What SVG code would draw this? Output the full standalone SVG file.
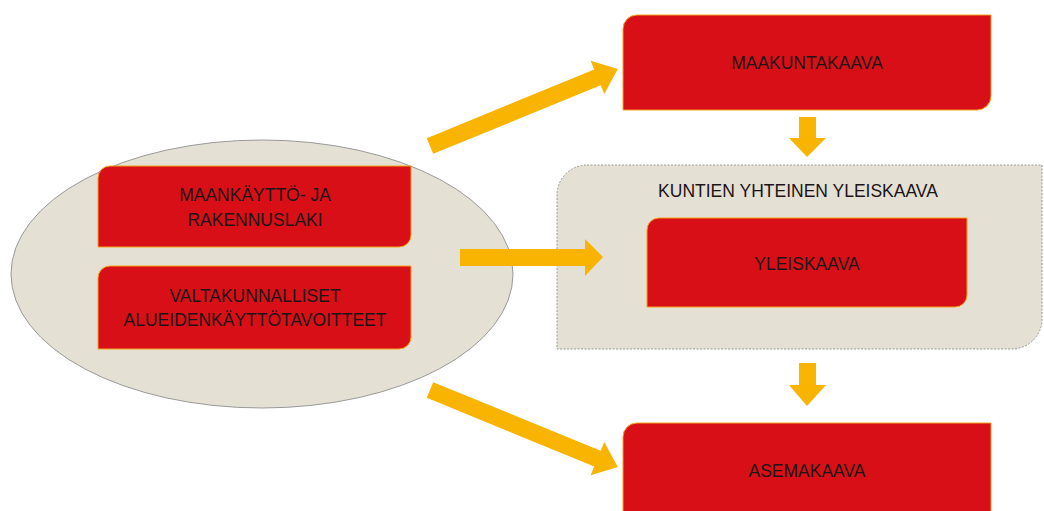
<svg xmlns="http://www.w3.org/2000/svg" width="1044" height="511" viewBox="0 0 1044 511">
<defs>
<style>
.box{fill:#d80f17;stroke:#f2a21c;stroke-width:1}
.t{font-family:"Liberation Sans",Arial,sans-serif;font-size:17.5px;fill:#1c1416;text-anchor:middle}
.arr{fill:#f8b400}
</style>
</defs>
<rect width="1044" height="511" fill="#ffffff"/>
<g id="ellipse-group">
<ellipse cx="262" cy="274" rx="251" ry="134" fill="#e5e0d4" stroke="#9a9a9a" stroke-width="1"/>
</g>
<g id="container">
<path d="M587,165 H1042 V319 A30,30 0 0 1 1012,349 H557 V195 A30,30 0 0 1 587,165 Z" fill="#e5e0d4" stroke="#9a9a9a" stroke-width="1" stroke-dasharray="2,1.5"/>
<text class="t" x="798" y="197">KUNTIEN YHTEINEN YLEISKAAVA</text>
</g>
<g id="maakuntakaava">
<path class="box" d="M637,15 H991 V96 A14,14 0 0 1 977,110 H623 V29 A14,14 0 0 1 637,15 Z"/>
<text class="t" x="807" y="69">MAAKUNTAKAAVA</text>
</g>
<g id="yleiskaava">
<path class="box" d="M659,218 H967 V295 A12,12 0 0 1 955,307 H647 V230 A12,12 0 0 1 659,218 Z"/>
<text class="t" x="807" y="270">YLEISKAAVA</text>
</g>
<g id="mrl">
<path class="box" d="M110,166 H411 V235 A12,12 0 0 1 399,247 H98 V178 A12,12 0 0 1 110,166 Z"/>
<text class="t" x="255" y="201">MAANKÄYTTÖ- JA</text>
<text class="t" x="255" y="226">RAKENNUSLAKI</text>
</g>
<g id="vat">
<path class="box" d="M110,266 H411 V337 A12,12 0 0 1 399,349 H98 V278 A12,12 0 0 1 110,266 Z"/>
<text class="t" x="255" y="302">VALTAKUNNALLISET</text>
<text class="t" x="255" y="326">ALUEIDENKÄYTTÖTAVOITTEET</text>
</g>
<g id="asemakaava">
<path class="box" d="M637,423 H991 V530 H623 V437 A14,14 0 0 1 637,423 Z"/>
<text class="t" x="807" y="477">ASEMAKAAVA</text>
</g>
<g id="connectors">
<polygon class="arr" transform="translate(430,146) rotate(-22.3)" points="0,-8.5 181,-8.5 181,-18 203,0 181,18 181,8.5 0,8.5"/>
<polygon class="arr" transform="translate(430,390) rotate(22.3)" points="0,-8.5 181,-8.5 181,-18 203,0 181,18 181,8.5 0,8.5"/>
<polygon class="arr" points="460,249 585,249 585,239 603,257 585,276 585,266 460,266"/>
<polygon class="arr" points="799,117 816,117 816,138 826,138 807,157 789,138 799,138"/>
<polygon class="arr" points="799,363 816,363 816,385 826,385 807,406 789,385 799,385"/>
</g>
</svg>
